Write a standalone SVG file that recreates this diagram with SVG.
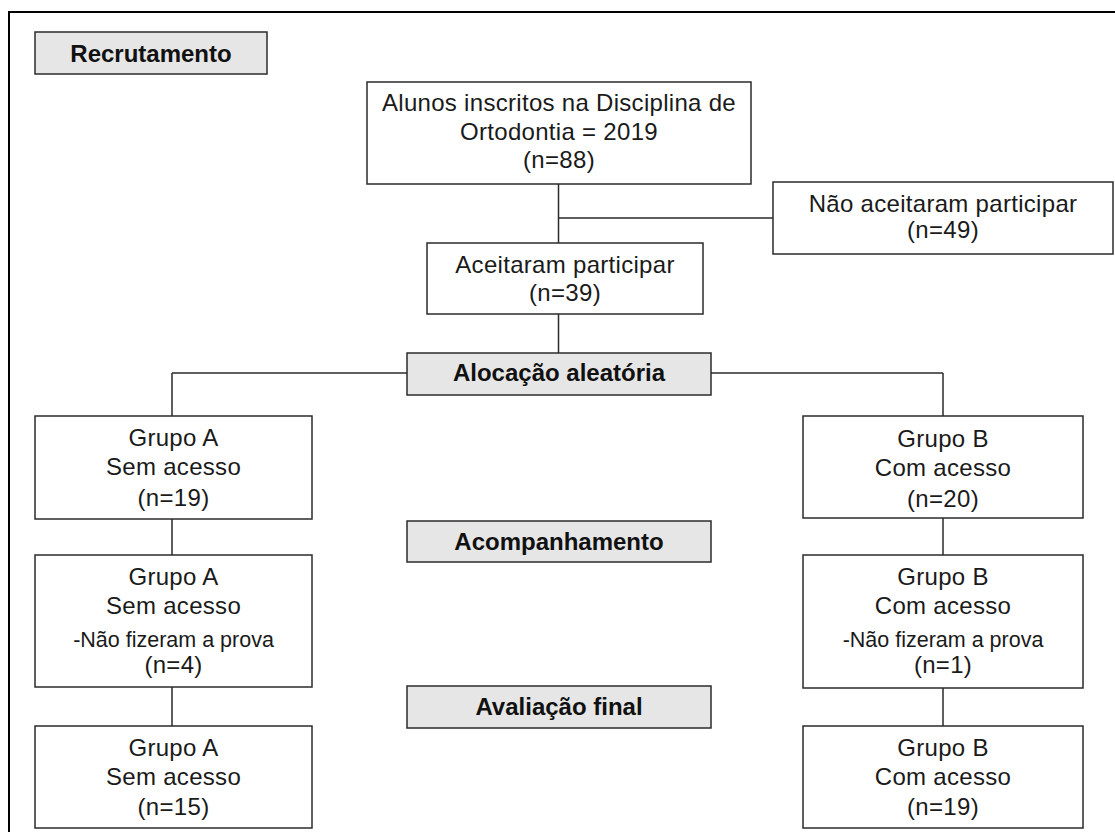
<svg xmlns="http://www.w3.org/2000/svg" width="1115" height="832" viewBox="0 0 1115 832">
<style>
.box{fill:#ffffff;stroke:#2b2b2b;stroke-width:1.5}
.hdr{fill:#e6e6e6;stroke:#2b2b2b;stroke-width:1.5}
.t{font-family:"Liberation Sans",Arial,sans-serif;font-size:24px;letter-spacing:0.3px;fill:#1a1a1a;text-anchor:middle}
.s{font-size:21.5px;letter-spacing:0}
.b{font-family:"Liberation Sans",Arial,sans-serif;font-size:24px;font-weight:bold;fill:#111;text-anchor:middle}
.ln{stroke:#2b2b2b;stroke-width:1.5;fill:none}
</style>
<rect x="9" y="12" width="1120" height="840" fill="#ffffff" stroke="#000" stroke-width="2"/>
<g id="connectors">
<path class="ln" d="M558.5,184 V243 M558.5,218 H773 M558.5,314 V353 M172,373 H407 M711,373 H943 M172,373 V416 M943,373 V416 M172,519 V555 M943,518 V555 M172,687 V726 M943,688 V726"/>
</g>
<g id="recrutamento"><rect class="hdr" x="35" y="32" width="232" height="42"/><text class="b" x="151" y="62">Recrutamento</text></g>
<g id="inscritos"><rect class="box" x="367" y="82" width="384" height="102"/>
<text class="t" x="559" y="111">Alunos inscritos na Disciplina de</text>
<text class="t" x="559" y="140">Ortodontia = 2019</text>
<text class="t" x="559" y="168">(n=88)</text></g>
<g id="nao-aceitaram"><rect class="box" x="773" y="182" width="340" height="72"/>
<text class="t" x="943" y="212">Não aceitaram participar</text>
<text class="t" x="943" y="238">(n=49)</text></g>
<g id="aceitaram"><rect class="box" x="427" y="243" width="276" height="71"/>
<text class="t" x="565" y="273">Aceitaram participar</text>
<text class="t" x="565" y="301">(n=39)</text></g>
<g id="alocacao"><rect class="hdr" x="407" y="353" width="304" height="42"/><text class="b" x="559" y="381">Alocação aleatória</text></g>
<g id="grupoA1"><rect class="box" x="35" y="416" width="277" height="103"/>
<text class="t" x="173.5" y="446">Grupo A</text>
<text class="t" x="173.5" y="475">Sem acesso</text>
<text class="t" x="173.5" y="506">(n=19)</text></g>
<g id="grupoB1"><rect class="box" x="803" y="416" width="280" height="102"/>
<text class="t" x="943" y="447">Grupo B</text>
<text class="t" x="943" y="476">Com acesso</text>
<text class="t" x="943" y="507">(n=20)</text></g>
<g id="acompanhamento"><rect class="hdr" x="407" y="521" width="304" height="41"/><text class="b" x="559" y="550">Acompanhamento</text></g>
<g id="grupoA2"><rect class="box" x="35" y="555" width="277" height="132"/>
<text class="t" x="173.5" y="585">Grupo A</text>
<text class="t" x="173.5" y="614">Sem acesso</text>
<text class="t s" x="173.5" y="647">-Não fizeram a prova</text>
<text class="t" x="173.5" y="673">(n=4)</text></g>
<g id="grupoB2"><rect class="box" x="803" y="555" width="280" height="133"/>
<text class="t" x="943" y="585">Grupo B</text>
<text class="t" x="943" y="614">Com acesso</text>
<text class="t s" x="943" y="647">-Não fizeram a prova</text>
<text class="t" x="943" y="673">(n=1)</text></g>
<g id="avaliacao"><rect class="hdr" x="407" y="686" width="304" height="42"/><text class="b" x="559" y="715">Avaliação final</text></g>
<g id="grupoA3"><rect class="box" x="35" y="726" width="277" height="102"/>
<text class="t" x="173.5" y="756">Grupo A</text>
<text class="t" x="173.5" y="785">Sem acesso</text>
<text class="t" x="173.5" y="815">(n=15)</text></g>
<g id="grupoB3"><rect class="box" x="803" y="726" width="280" height="102"/>
<text class="t" x="943" y="756">Grupo B</text>
<text class="t" x="943" y="785">Com acesso</text>
<text class="t" x="943" y="815">(n=19)</text></g>
</svg>
